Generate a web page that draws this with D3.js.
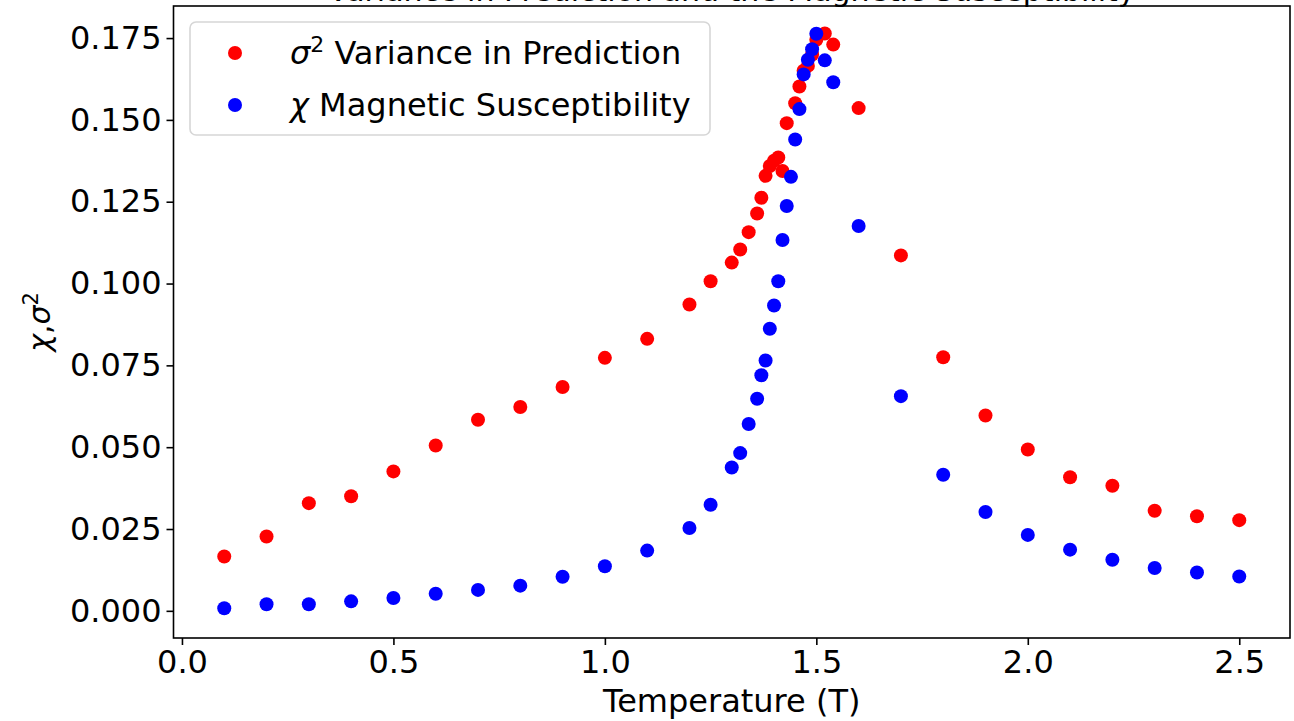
<!DOCTYPE html>
<html>
<head>
	<meta charset="utf-8" />
	<title>Variance vs susceptibility</title>
	<script src="https://cdn.jsdelivr.net/npm/d3@7"></script>
	<style>
		body { margin: 0; background: #fff; }
		text { font-family: "DejaVu Sans", sans-serif; fill: #000; }
	</style>
</head>
<body>

<script>
// temperatures sampled (denser near the transition)
var temperature = [0.1, 0.2, 0.3, 0.4, 0.5, 0.6, 0.7, 0.8, 0.9, 1.0, 1.1, 1.2,
	1.25, 1.3, 1.32, 1.34, 1.36, 1.37, 1.38, 1.39, 1.40, 1.41, 1.42, 1.43, 1.44,
	1.45, 1.46, 1.47, 1.48, 1.49, 1.50, 1.52, 1.54,
	1.6, 1.7, 1.8, 1.9, 2.0, 2.1, 2.2, 2.3, 2.4, 2.5];

// sigma^2, variance in prediction (null = no point)
var variance = [0.0166, 0.0227, 0.0329, 0.0350, 0.0426, 0.0505, 0.0584, 0.0623, 0.0684, 0.0773, 0.0831, 0.0936,
	0.1007, 0.1064, 0.1104, 0.1157, 0.1214, 0.1262, 0.1329, 0.1359, 0.1375, 0.1385, 0.1344, 0.1490, null,
	0.1551, 0.1602, 0.1650, 0.1665, 0.1700, 0.1745, 0.1764, 0.1730,
	0.1536, 0.1086, 0.0775, 0.0597, 0.0493, 0.0408, 0.0382, 0.0306, 0.0289, 0.0277];

// chi, magnetic susceptibility
var susceptibility = [0.0008, 0.0020, 0.0020, 0.0029, 0.0039, 0.0052, 0.0064, 0.0077, 0.0104, 0.0136, 0.0184, 0.0253,
	0.0324, 0.0438, 0.0482, 0.0571, 0.0648, 0.0720, 0.0765, 0.0862, 0.0933, 0.1007, 0.1133, 0.1237, 0.1326,
	0.1440, 0.1533, 0.1639, 0.1684, 0.1716, 0.1763, 0.1682, 0.1615,
	0.1176, 0.0656, 0.0416, 0.0302, 0.0232, 0.0187, 0.0156, 0.0131, 0.0117, 0.0105];

var xTicks = [0.0, 0.5, 1.0, 1.5, 2.0, 2.5];
var yTicks = [0.000, 0.025, 0.050, 0.075, 0.100, 0.125, 0.150, 0.175];

var seriesNames = ["Variance in Prediction", "Magnetic Susceptibility"];
var seriesColors = ["#ff0000", "#0000ff"];

var W = 1294, H = 721;
var m = { l: 173.5, r: 1290, t: 6, b: 638 };
var fontSize = 32;

var svg = d3.select("body").append("svg")
			.attr("width", W)
			.attr("height", H);

var x = d3.scaleLinear().domain([-0.02, 2.62]).range([m.l, m.r]);
var y = d3.scaleLinear().domain([-0.0083, 0.1848]).range([m.b, m.t]);

// title, mostly outside the picture
svg.append("text")
	.attr("x", (m.l + m.r) / 2)
	.attr("y", 0.5)
	.attr("text-anchor", "middle")
	.style("font-size", "30px")
	.text("Variance in Prediction and the Magnetic Susceptibility");

// points
var series = [variance, susceptibility];
series.forEach(function(vals, i){
	var pts = temperature.map(function(t, j){ return { t: t, v: vals[j] }; })
				.filter(function(d){ return d.v != null; });
	svg.append("g").selectAll("circle")
		.data(pts)
		.enter()
		.append("circle")
		.attr("cx", function(d){ return x(d.t); })
		.attr("cy", function(d){ return y(d.v); })
		.attr("r", 7)
		.attr("fill", seriesColors[i]);
});

// axes
var xAxis = d3.axisBottom(x).tickValues(xTicks).tickFormat(d3.format(".1f")).tickSize(7).tickPadding(5);
var yAxis = d3.axisLeft(y).tickValues(yTicks).tickFormat(d3.format(".3f")).tickSize(7).tickPadding(5);

var gx = svg.append("g").attr("transform", "translate(0," + m.b + ")").call(xAxis);
var gy = svg.append("g").attr("transform", "translate(" + m.l + ",0)").call(yAxis);
[gx, gy].forEach(function(g){
	g.select(".domain").remove();
	g.selectAll("line").attr("stroke", "#000").attr("stroke-width", 1.6);
	g.selectAll("text").style("font-size", fontSize + "px").attr("font-family", null).attr("fill", "#000");
});

// frame
svg.append("rect")
	.attr("x", m.l).attr("y", m.t)
	.attr("width", m.r - m.l).attr("height", m.b - m.t)
	.attr("fill", "none").attr("stroke", "#000").attr("stroke-width", 1.6);

// axis labels
svg.append("text")
	.attr("x", (m.l + m.r) / 2)
	.attr("y", 712)
	.attr("text-anchor", "middle")
	.style("font-size", fontSize + "px")
	.text("Temperature (T)");

var yl = svg.append("text")
	.attr("transform", "translate(50," + ((m.t + m.b) / 2) + ") rotate(-90)")
	.attr("text-anchor", "middle")
	.style("font-size", "30px");
yl.append("tspan").style("font-style", "italic").text("χ");
yl.append("tspan").text(",");
yl.append("tspan").style("font-style", "italic").text("σ");
yl.append("tspan").attr("dy", -12).style("font-size", "21px").text("2");

// legend
var lg = svg.append("g").attr("transform", "translate(190,22)");
lg.append("rect")
	.attr("width", 520).attr("height", 113).attr("rx", 6)
	.attr("fill", "#fff").attr("fill-opacity", 0.8)
	.attr("stroke", "#d6d6d6").attr("stroke-width", 1.6);

seriesNames.forEach(function(name, i){
	var cy = 31 + i * 52;
	lg.append("circle").attr("cx", 45).attr("cy", cy).attr("r", 7).attr("fill", seriesColors[i]);
	var t = lg.append("text").attr("x", 100).attr("y", cy + 11).style("font-size", fontSize + "px");
	if (i === 0) {
		t.append("tspan").style("font-style", "italic").text("σ");
		t.append("tspan").attr("dy", -12).style("font-size", "22px").text("2");
		t.append("tspan").attr("dy", 12).text(" " + name);
	} else {
		t.append("tspan").style("font-style", "italic").text("χ");
		t.append("tspan").text(" " + name);
	}
});
</script>
</body>
</html>
